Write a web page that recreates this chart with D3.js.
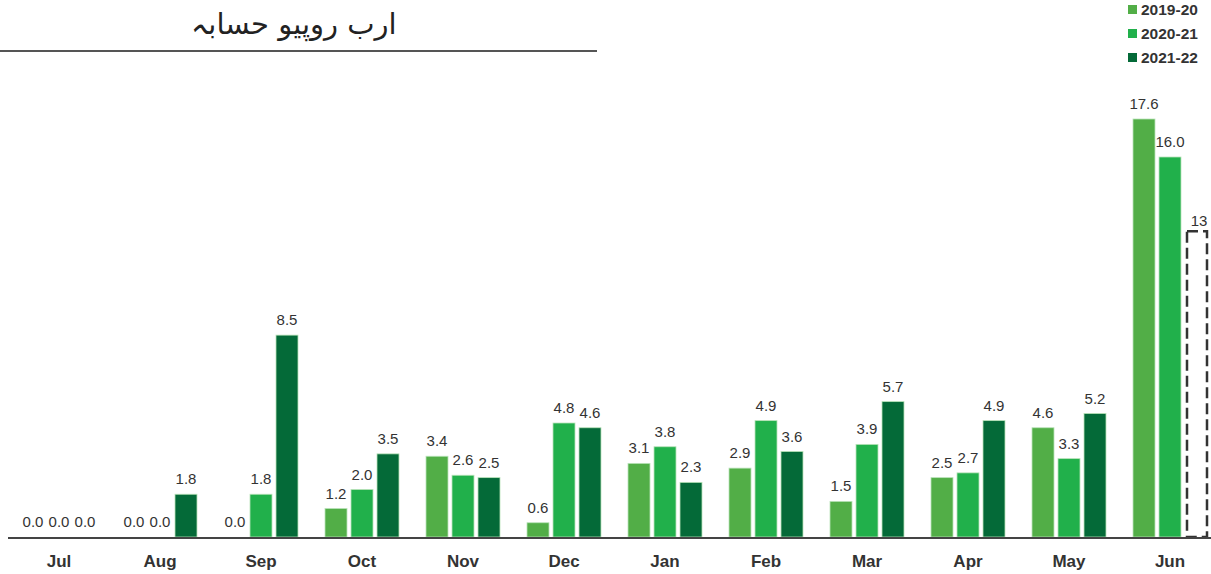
<!DOCTYPE html>
<html>
<head>
<meta charset="utf-8">
<script src="https://cdn.jsdelivr.net/npm/d3@7"></script>
<style>
  body { margin: 0; background: #fff; }
  svg { display: block; }
</style>
</head>
<body>
<svg id="chart" width="1211" height="574"></svg>
<script>
const months = ["Jul", "Aug", "Sep", "Oct", "Nov", "Dec", "Jan", "Feb", "Mar", "Apr", "May", "Jun"];
const seriesNames = ["2019-20", "2020-21", "2021-22"];
const seriesColors = ["#52ae47", "#21b04b", "#046a38"];
const fy2019 = [0.0, 0.0, 0.0, 1.2, 3.4, 0.6, 3.1, 2.9, 1.5, 2.5, 4.6, 17.6];
const fy2020 = [0.0, 0.0, 1.8, 2.0, 2.6, 4.8, 3.8, 4.9, 3.9, 2.7, 3.3, 16.0];
const fy2021 = [0.0, 1.8, 8.5, 3.5, 2.5, 4.6, 2.3, 3.6, 5.7, 4.9, 5.2, null];
const junTarget = 13;
const title = "ارب روپیو حسابہ";

const svg = d3.select("#chart");
const baseY = 537;

const x0 = d3.scaleBand().domain(months).range([8.5, 8.5 + 12 * 101]);
const x1 = d3.scaleBand().domain(seriesNames).range([-37, 37]).paddingInner(4 / 26);
const y = d3.scaleLinear().domain([0, 20]).range([baseY, baseY - 475]);

const allSeries = [fy2019, fy2020, fy2021];
const rows = [];
allSeries.forEach((vals, si) => {
    vals.forEach((v, mi) => {
        if (v !== null) rows.push({ month: months[mi], series: seriesNames[si], color: seriesColors[si], value: v });
    });
});

const cx = d => x0(d.month) + x0.bandwidth() / 2 + x1(d.series);

// bars
svg.append("g").selectAll("rect")
    .data(rows.filter(d => d.value > 0))
    .join("rect")
    .attr("x", d => cx(d))
    .attr("y", d => y(d.value))
    .attr("width", x1.bandwidth())
    .attr("height", d => baseY - y(d.value))
    .attr("fill", d => d.color)
    .attr("stroke", "#b9e3b9")
    .attr("stroke-width", 0.8);

// value labels
svg.append("g").selectAll("text")
    .data(rows)
    .join("text")
    .attr("x", d => cx(d) + x1.bandwidth() / 2)
    .attr("y", d => y(d.value) - 10)
    .attr("text-anchor", "middle")
    .attr("font-family", "Liberation Sans, Arial, sans-serif")
    .attr("font-size", 15)
    .attr("fill", "#333")
    .text(d => d.value.toFixed(1));

// target bar for Jun 2021-22
const tx = x0("Jun") + x0.bandwidth() / 2 + x1("2021-22");
svg.append("rect")
    .attr("x", tx + 2)
    .attr("y", y(junTarget) + 3)
    .attr("width", x1.bandwidth() - 2)
    .attr("height", baseY - y(junTarget) - 3)
    .attr("fill", "none")
    .attr("stroke", "#333")
    .attr("stroke-width", 2.5)
    .attr("stroke-dasharray", "11,5");
svg.append("text")
    .attr("x", tx + x1.bandwidth() / 2 + 3)
    .attr("y", y(junTarget) - 2)
    .attr("text-anchor", "middle")
    .attr("font-family", "Liberation Sans, Arial, sans-serif")
    .attr("font-size", 15)
    .attr("fill", "#333")
    .text(junTarget);

// x axis
svg.append("line")
    .attr("x1", 8).attr("x2", 1211)
    .attr("y1", baseY + 1).attr("y2", baseY + 1)
    .attr("stroke", "#444").attr("stroke-width", 2);

svg.append("g").selectAll("text")
    .data(months)
    .join("text")
    .attr("x", d => x0(d) + x0.bandwidth() / 2)
    .attr("y", 567)
    .attr("text-anchor", "middle")
    .attr("font-family", "Liberation Sans, Arial, sans-serif")
    .attr("font-weight", "bold")
    .attr("font-size", 17)
    .attr("fill", "#333")
    .text(d => d);

// legend
const legend = svg.append("g").selectAll("g")
    .data(seriesNames)
    .join("g")
    .attr("transform", (d, i) => `translate(1128, ${i * 24})`);
legend.append("rect")
    .attr("x", 0).attr("y", 5)
    .attr("width", 9).attr("height", 9)
    .attr("fill", (d, i) => seriesColors[i]);
legend.append("text")
    .attr("x", 13).attr("y", 15)
    .attr("font-family", "Liberation Sans, Arial, sans-serif")
    .attr("font-weight", "bold")
    .attr("font-size", 15.5)
    .attr("fill", "#333")
    .text(d => d);

// title
svg.append("text")
    .attr("x", 294)
    .attr("y", 34)
    .attr("text-anchor", "middle")
    .attr("direction", "rtl")
    .attr("font-family", "DejaVu Sans, sans-serif")
    .attr("font-size", 29)
    .attr("fill", "#222")
    .text(title);
svg.append("line")
    .attr("x1", 0).attr("x2", 597)
    .attr("y1", 51).attr("y2", 51)
    .attr("stroke", "#555").attr("stroke-width", 2);
</script>
</body>
</html>
